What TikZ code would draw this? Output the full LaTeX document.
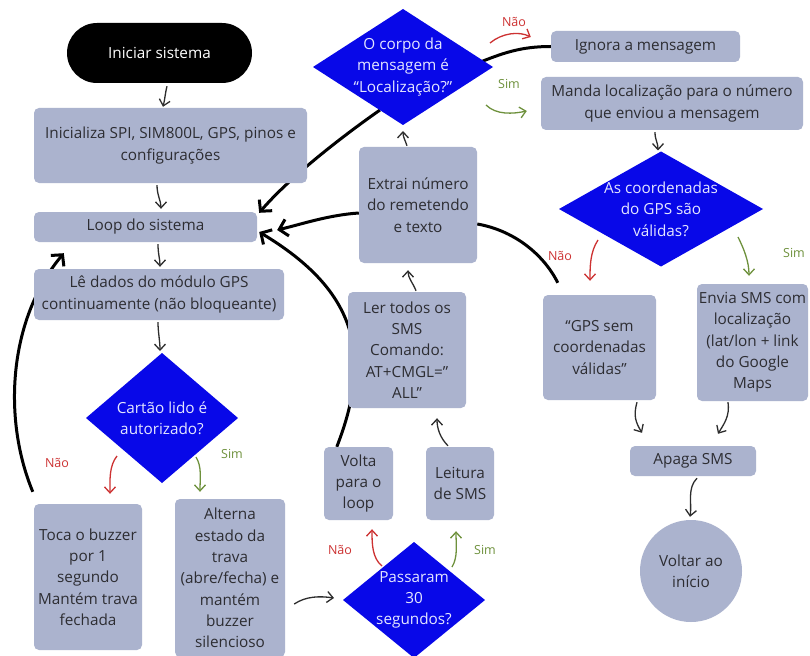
\documentclass[tikz,border=0pt]{standalone}
\usepackage{fontspec}
\setmainfont{Open Sans}
\usetikzlibrary{shapes.geometric,arrows.meta,backgrounds}
\definecolor{boxc}{RGB}{171,179,206}
\definecolor{diab}{RGB}{8,8,232}
\definecolor{txt}{RGB}{45,45,50}
\definecolor{dtxt}{RGB}{228,230,255}
\definecolor{redc}{RGB}{205,50,50}
\definecolor{greenc}{RGB}{110,145,60}
\definecolor{arr}{RGB}{45,45,45}
\tikzset{
  box/.style={fill=boxc, rounded corners=5pt, align=center, text=txt, inner sep=0pt,
    font=\fontsize{15.3}{21.3}\selectfont},
  dia/.style={diamond, fill=diab, inner sep=0pt, outer sep=0pt},
  dtext/.style={align=center, text=dtxt, font=\fontsize{15.3}{21.3}\selectfont, inner sep=0pt},
  thinarrow/.style={draw=arr, line width=1.3pt, -{Straight Barb[length=6pt,width=11pt]}},
  redarrow/.style={thinarrow, draw=redc},
  greenarrow/.style={thinarrow, draw=greenc},
  thickline/.style={draw=black, line width=3pt},
  thickarrow/.style={thickline, -{Straight Barb[length=8pt,width=17pt]}},
  nao/.style={text=redc, font=\fontsize{12.5}{14}\selectfont, inner sep=0pt},
  sim/.style={text=greenc, font=\fontsize{12.5}{14}\selectfont, inner sep=0pt},
}
\begin{document}
\begin{tikzpicture}[x=1pt,y=-1pt]
\useasboundingbox (0,0) rectangle (810,655);
% nodes
\node[fill=black, text=white, rounded corners=30pt, minimum width=185pt, minimum height=60pt, inner sep=0pt, font=\fontsize{15.3}{21.3}\selectfont] (iniciar) at (159.5,53) {Iniciar sistema};
\node[box, minimum width=273pt, minimum height=75pt] (init) at (170.5,145.5) {Inicializa SPI, SIM800L, GPS, pinos e\\configurações};
\node[box, minimum width=223pt, minimum height=30pt] (loop) at (145.5,227) {Loop do sistema};
\node[box, minimum width=250pt, minimum height=51pt] (le) at (159,294.5) {Lê dados do módulo GPS\\continuamente (não bloqueante)};
\node[dia, minimum width=152pt, minimum height=130pt, label={[dtext]center:Cartão lido é\\autorizado?}] (cartao) at (162,418) {};
\node[box, minimum width=108pt, minimum height=146pt] (toca) at (88,577) {Toca o buzzer\\por 1\\segundo\\Mantém trava\\fechada};
\node[box, minimum width=110pt, minimum height=158pt] (alterna) at (230,578) {Alterna\\estado da\\trava\\(abre/fecha) e\\mantém\\buzzer\\silencioso};
\node[dia, minimum width=142pt, minimum height=116pt, label={[dtext]center:Passaram\\30\\segundos?}] (passaram) at (414,600) {};
\node[box, minimum width=69pt, minimum height=73pt] (volta) at (358.5,483.5) {Volta\\para o\\loop};
\node[box, minimum width=68pt, minimum height=73pt] (leitura) at (460,483.5) {Leitura\\de SMS};
\node[box, minimum width=118pt, minimum height=116pt] (ler) at (407,350) {Ler todos os\\SMS\\Comando:\\AT+CMGL=”\\ALL”};
\node[box, minimum width=118pt, minimum height=116pt] (extrai) at (418,205) {Extrai número\\do remetendo\\e texto};
\node[dia, minimum width=180pt, minimum height=116pt, label={[dtext]center:O corpo da\\mensagem é\\“Localização?”}] (corpo) at (403,67) {};
\node[box, minimum width=189pt, minimum height=31pt] (ignora) at (645.5,46.5) {Ignora a mensagem};
\node[box, minimum width=262pt, minimum height=53pt] (manda) at (672,103.5) {Manda localização para o número\\que enviou a mensagem};
\node[dia, minimum width=204pt, minimum height=115pt, label={[dtext]center:As coordenadas\\do GPS são\\válidas?}] (coord) at (661,209) {};
\node[box, minimum width=113pt, minimum height=105pt] (gpssem) at (599.5,347.5) {“GPS sem\\coordenadas\\válidas”};
\node[box, minimum width=111pt, minimum height=117pt] (envia) at (752.5,342.5) {Envia SMS com\\localização\\(lat/lon + link\\do Google\\Maps};
\node[box, minimum width=126pt, minimum height=30pt] (apaga) at (693,461) {Apaga SMS};
\node[box, circle, minimum size=102pt] (voltar) at (691,571) {Voltar ao\\início};
% thick connectors behind
\begin{pgfonlayer}{background}
\fill[white] (0,0) rectangle (810,655);
\draw[thickarrow] ([shift={(-23,43)}]corpo.center) .. controls +(-40,28) and +(30,-35) .. ([shift={(2,1)}]loop.north east);
\draw[thickarrow] ([shift={(0,8)}]extrai.west) .. controls +(-30,2) and +(25,-6) .. ([shift={(20,3)}]loop.east);
\draw[thickarrow] ([shift={(13,0)}]volta.north west) .. controls +(35,-90) and +(100,60) .. ([shift={(2,5)}]loop.east);
\draw[thickarrow] ([shift={(-1,-12)}]toca.north west) .. controls +(-30,-72) and +(-56,67) .. ([shift={(30,11)}]loop.south west);
\draw[thickline] (ignora.west) .. controls +(-30,0) and +(25,-10) .. ([shift={(-15,-4)}]corpo.east);
\draw[thickline] ([shift={(0,19)}]extrai.east) .. controls +(35,6) and +(-15,-30) .. ([shift={(15,-12)}]gpssem.north west);
\end{pgfonlayer}
% thin arrows
\draw[thinarrow] ([shift={(7.5,3)}]iniciar.south) .. controls +(-2,8) and +(2,-8) .. ([shift={(-7.5,-1)}]init.north);
\draw[thinarrow] ([shift={(-13.5,2)}]init.south) .. controls +(0,10) and +(0,-8) .. ([shift={(15.5,-3)}]loop.north);
\draw[thinarrow] ([shift={(12.5,2)}]loop.south) .. controls +(0,10) and +(0,-8) .. ([shift={(1,-2)}]le.north);
\draw[thinarrow] ([shift={(-1,2)}]le.south) .. controls +(0,10) and +(0,-10) .. ([shift={(-2,-2)}]cartao.north);
\draw[redarrow] ([shift={(-45,38)}]cartao.center) .. controls +(-8,10) and +(0,-14) .. ([shift={(22,-10)}]toca.north);
\draw[greenarrow] ([shift={(34,39)}]cartao.center) .. controls +(6,10) and +(0,-14) .. ([shift={(-30,-7)}]alterna.north);
\draw[thinarrow] ([shift={(9,26)}]alterna.east) .. controls +(12,-8) and +(-14,-2) .. ([shift={(-9,-2)}]passaram.west);
\draw[redarrow] ([shift={(-32,-34)}]passaram.center) .. controls +(-10,-8) and +(0,14) .. ([shift={(13.5,9)}]volta.south);
\draw[greenarrow] ([shift={(38,-33)}]passaram.center) .. controls +(6,-10) and +(0,14) .. ([shift={(-4,11)}]leitura.south);
\draw[thinarrow] ([shift={(-12,-1)}]leitura.north) .. controls +(-8,-8) and +(0,10) .. ([shift={(30,10)}]ler.south);
\draw[thinarrow] ([shift={(9,-1)}]ler.north) .. controls +(-3,-8) and +(0,8) .. ([shift={(-10,7)}]extrai.south);
\draw[thinarrow] ([shift={(-11,-1)}]extrai.north) .. controls +(-2,-6) and +(0,6) .. ([shift={(0,6)}]corpo.south);
\draw[redarrow] ([shift={(-3,-24)}]corpo.east) .. controls +(12,-10) and +(-12,-6) .. ([shift={(-20,-9.5)}]ignora.west);
\draw[greenarrow] ([shift={(-7,38)}]corpo.east) .. controls +(10,10) and +(-14,3) .. ([shift={(-14,7.5)}]manda.west);
\draw[thinarrow] ([shift={(-17,2)}]manda.south) .. controls +(0,8) and +(0,-8) .. ([shift={(-3,-1)}]coord.north);
\draw[redarrow] ([shift={(-63,31)}]coord.center) .. controls +(-8,12) and +(0,-14) .. ([shift={(-9.5,-14)}]gpssem.north);
\draw[greenarrow] ([shift={(77,28)}]coord.center) .. controls +(6,12) and +(0,-14) .. ([shift={(-3.5,-8)}]envia.north);
\draw[thinarrow] ([shift={(37.5,2)}]gpssem.south) .. controls +(-4,14) and +(-6,-10) .. ([shift={(-51,-13)}]apaga.north);
\draw[thinarrow] ([shift={(-24.5,1)}]envia.south) .. controls +(2,14) and +(6,-10) .. ([shift={(25,-12)}]apaga.north);
\draw[thinarrow] ([shift={(4,2)}]apaga.south) .. controls +(-10,10) and +(2,-14) .. ([shift={(-1,-3)}]voltar.north);
% labels
\node[nao] (l1) at (57,463) {Não};
\node[sim] (l2) at (232,454) {Sim};
\node[nao] (l3) at (340,550) {Não};
\node[sim] (l4) at (485,550) {Sim};
\node[nao] (l5) at (514,22) {Não};
\node[sim] (l6) at (509,84) {Sim};
\node[nao] (l7) at (560,256) {Não};
\node[sim] (l8) at (794,253) {Sim};
\end{tikzpicture}
\end{document}
